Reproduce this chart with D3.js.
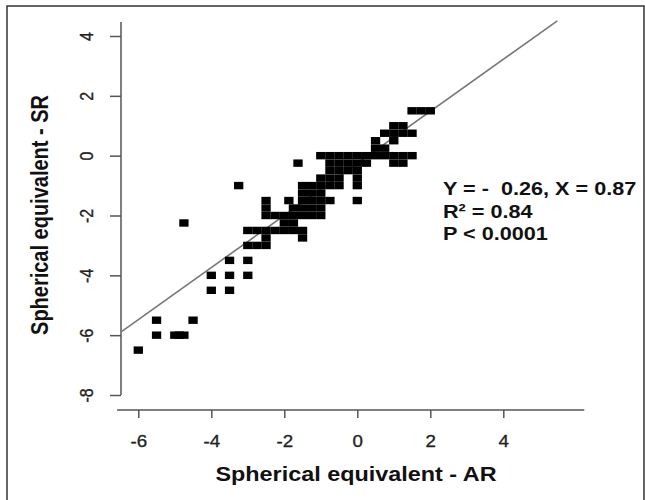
<!DOCTYPE html>
<html>
<head>
<meta charset="utf-8">
<script src="https://cdn.jsdelivr.net/npm/d3@7"></script>
<style>
body { margin: 0; background: #fff; }
text { font-family: "Liberation Sans", Arial, sans-serif; }
</style>
</head>
<body>
<div id="chart"></div>
<script>
// AR (x) against SR (y) spherical equivalent, one square per eye
var points = [
  [-6, -6.5],
  [-5.5, -5.5], [-5.5, -6],
  [-5, -6], [-4.875, -6], [-4.75, -6],
  [-4.5, -5.5],
  [-4, -4], [-4, -4.5],
  [-3.5, -3.5], [-3.5, -4], [-3.5, -4.5],
  [-3, -3.5], [-3, -4],
  [-4.75, -2.25],
  [-3.25, -1],
  [-3, -3], [-2.75, -3], [-2.5, -3], [-2.5, -2.75],
  [-3, -2.5], [-2.75, -2.5], [-2.5, -2.5], [-2.25, -2.5], [-2, -2.5], [-1.75, -2.5], [-1.5, -2.5],
  [-1.5, -2.75],
  [-2, -2.25], [-1.75, -2.25],
  [-2.25, -2], [-2, -2], [-1.75, -2], [-1.5, -2], [-1.25, -2], [-1, -2],
  [-2.5, -2], [-2.5, -1.75], [-2.5, -1.5],
  [-1.75, -1.75], [-1.5, -1.75], [-1.25, -1.75], [-1, -1.75],
  [-1.875, -1.5], [-1.5, -1.5], [-1.25, -1.5], [-1, -1.5], [-0.75, -1.5], [0, -1.5],
  [-1.5, -1.25], [-1.25, -1.25], [-1, -1.25],
  [-1.5, -1], [-1.25, -1], [-1, -1], [-0.75, -1], [-0.5, -1], [0, -1],
  [-1, -0.75], [-0.75, -0.75], [-0.5, -0.75], [0, -0.75],
  [-0.75, -0.5], [-0.5, -0.5], [-0.25, -0.5], [0, -0.5],
  [-1.625, -0.25], [-0.75, -0.25], [-0.5, -0.25], [-0.25, -0.25], [0, -0.25], [0.25, -0.25], [1, -0.25], [1.25, -0.25],
  [-1, 0], [-0.75, 0], [-0.5, 0], [-0.25, 0], [0, 0], [0.25, 0], [0.5, 0], [0.75, 0], [1, 0], [1.25, 0], [1.5, 0],
  [0.5, 0.25], [0.75, 0.25],
  [0.5, 0.5], [1, 0.5],
  [0.75, 0.75], [1, 0.75], [1.25, 0.75], [1.5, 0.75],
  [1, 1], [1.25, 1],
  [1.5, 1.5], [1.75, 1.5], [2, 1.5]
];
var xTicks = [-6, -4, -2, 0, 2, 4];
var yTicks = [4, 2, 0, -2, -4, -6, -8];
var fitIntercept = -0.26;
var fitSlope = 0.87;
var fitRange = [-6.45, 5.48];
var statLines = ["Y = -  0.26, X = 0.87", "R\u00b2 = 0.84", "P < 0.0001"];
var xTitle = "Spherical equivalent - AR";
var yTitle = "Spherical equivalent - SR";

var w = 645, h = 500;
var stretch = 1.17; // the picture is stretched a bit sideways
var axisColor = "#555";

var x = d3.scaleLinear().domain([-6, 4]).range([138.3, 503.3]);
var y = d3.scaleLinear().domain([-8, 4]).range([395, 36]);

var svg = d3.select("#chart").append("svg")
    .attr("width", w)
    .attr("height", h);

// frame round the figure
svg.append("rect")
    .attr("x", 7).attr("y", 6)
    .attr("width", 637).attr("height", 520)
    .attr("fill", "none")
    .attr("stroke", "#333")
    .attr("stroke-width", 1.5);

// y axis
var yAxis = svg.append("g")
    .attr("transform", "translate(121,0)")
    .call(d3.axisLeft(y).tickValues(yTicks).tickSize(11).tickSizeOuter(0)
      .tickFormat(function(d) { return String(d); }));
yAxis.select(".domain").remove();
yAxis.selectAll(".tick line").attr("stroke", axisColor).attr("stroke-width", 1.5);
yAxis.selectAll(".tick text")
    .attr("x", null).attr("dy", null)
    .attr("text-anchor", "middle")
    .attr("fill", "#222")
    .attr("stroke", "#222").attr("stroke-width", 0.3)
    .attr("font-size", 16)
    .attr("transform", "translate(-28,0) scale(" + stretch + ",1) rotate(-90)");
yAxis.append("line")
    .attr("x1", 0).attr("x2", 0)
    .attr("y1", y(-8)).attr("y2", y(4.47))
    .attr("stroke", axisColor).attr("stroke-width", 1.5);

// x axis
var xAxis = svg.append("g")
    .attr("transform", "translate(0,410)")
    .call(d3.axisBottom(x).tickValues(xTicks).tickSize(8).tickSizeOuter(0)
      .tickFormat(function(d) { return String(d); }));
xAxis.select(".domain").remove();
xAxis.selectAll(".tick line").attr("stroke", axisColor).attr("stroke-width", 1.5);
xAxis.selectAll(".tick text")
    .attr("y", null).attr("dy", null)
    .attr("fill", "#222")
    .attr("stroke", "#222").attr("stroke-width", 0.3)
    .attr("font-size", 16)
    .attr("transform", "translate(0,37) scale(" + stretch + ",1)");
xAxis.append("line")
    .attr("x1", x(-6.58)).attr("x2", x(6.22))
    .attr("y1", 0).attr("y2", 0)
    .attr("stroke", axisColor).attr("stroke-width", 1.5);

// regression line
svg.append("line")
    .attr("x1", x(fitRange[0]))
    .attr("y1", y(fitIntercept + fitSlope * fitRange[0]))
    .attr("x2", x(fitRange[1]))
    .attr("y2", y(fitIntercept + fitSlope * fitRange[1]))
    .attr("stroke", "#777")
    .attr("stroke-width", 1.6);

// the squares, nearly the grid step so neighbours merge into blocks
svg.selectAll("rect.pt")
    .data(points)
    .enter()
    .append("rect")
    .attr("class", "pt")
    .attr("x", function(d) { return x(d[0]) - 4.65; })
    .attr("y", function(d) { return y(d[1]) - 3.7; })
    .attr("width", 9.3)
    .attr("height", 7.4)
    .attr("fill", "#000");

// stats text
svg.selectAll("text.stat")
    .data(statLines)
    .enter()
    .append("text")
    .attr("class", "stat")
    .attr("transform", function(d, i) { return "translate(443," + (195 + i * 22.5) + ") scale(" + stretch + ",1)"; })
    .attr("font-size", 18.5)
    .attr("font-weight", "bold")
    .attr("fill", "#111")
    .style("white-space", "pre")
    .text(function(d) { return d; });

// axis titles
svg.append("text")
    .attr("transform", "translate(356,481) scale(" + stretch + ",1)")
    .attr("text-anchor", "middle")
    .attr("font-size", 20)
    .attr("font-weight", "bold")
    .attr("fill", "#111")
    .text(xTitle);

svg.append("text")
    .attr("transform", "translate(48,215) scale(" + stretch + ",1) rotate(-90)")
    .attr("text-anchor", "middle")
    .attr("font-size", 20)
    .attr("font-weight", "bold")
    .attr("fill", "#111")
    .text(yTitle);
</script>
</body>
</html>
